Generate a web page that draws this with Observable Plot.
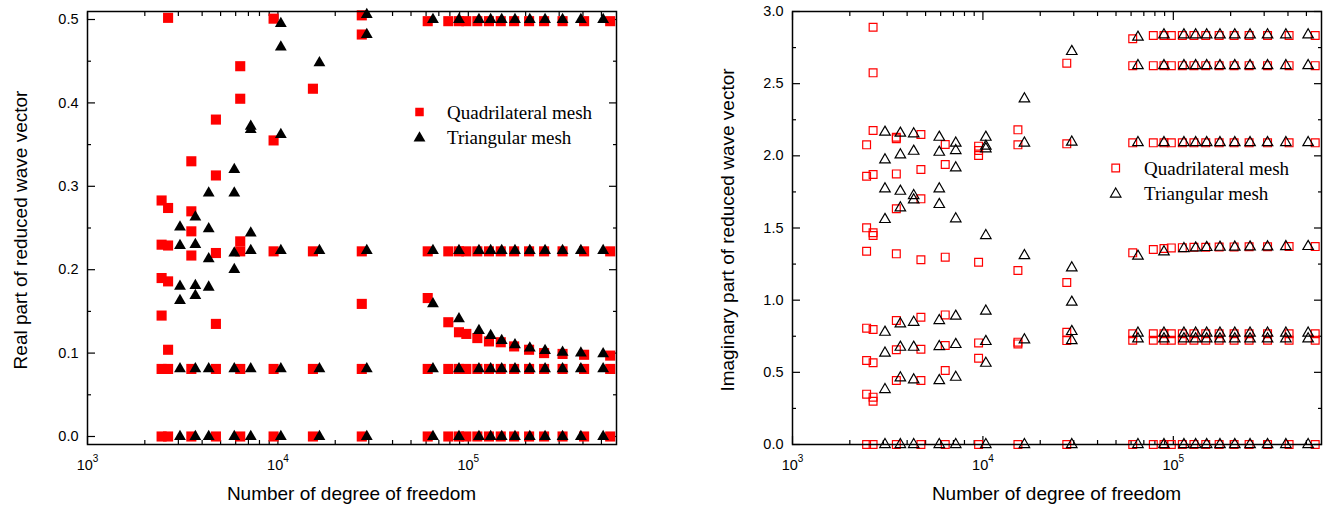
<!DOCTYPE html>
<html><head><meta charset="utf-8">
<script src="https://cdn.jsdelivr.net/npm/d3@7"></script>
<script src="https://cdn.jsdelivr.net/npm/@observablehq/plot@0.6"></script>
<style>
html,body{margin:0;padding:0;background:#fff;}
#wrap{position:relative;width:1329px;height:507px;overflow:hidden;background:#fff;}
#wrap svg{position:absolute;top:0;}
</style></head><body><div id="wrap"></div>
<script>
// ---------- x values (number of degrees of freedom) ----------
const quadDofLow = [2450, 2650, 3510, 4725, 6340, 9490, 15270, 27570];
const triDofLow = [3060, 3685, 4330, 5900, 7200, 10360, 16520, 29290];
const quadDofHigh = [61200, 78500, 89300, 97600, 111500, 128300, 148000, 174000, 208500, 250000, 312500, 405500, 556000];
const triDofHigh = [65200, 89300, 113700, 131000, 149700, 175800, 210300, 252900, 312500, 390000, 510500];

// ---------- left panel: real part ----------
const quadReLow = [
  [0.283, 0.230, 0.190, 0.145, 0.081, 0],
  [0.502, 0.274, 0.229, 0.186, 0.104, 0.081, 0],
  [0.330, 0.270, 0.246, 0.217, 0.081, 0],
  [0.380, 0.313, 0.220, 0.135, 0.081, 0],
  [0.444, 0.405, 0.234, 0.222, 0.081, 0],
  [0.501, 0.355, 0.222, 0.081, 0],
  [0.417, 0.222, 0.081, 0],
  [0.505, 0.482, 0.222, 0.159, 0.081, 0]
];
const triReLow = [
  [0.251, 0.229, 0.180, 0.163, 0.081, 0],
  [0.263, 0.230, 0.181, 0.169, 0.081, 0],
  [0.292, 0.249, 0.213, 0.179, 0.081, 0],
  [0.320, 0.292, 0.220, 0.200, 0.081, 0],
  [0.372, 0.368, 0.244, 0.223, 0.081, 0],
  [0.495, 0.467, 0.362, 0.223, 0.081, 0],
  [0.448, 0.223, 0.081, 0],
  [0.506, 0.482, 0.223, 0.081, 0]
];
const quadReLevels = [0.498, 0.222, 0.081, 0];
const triReLevels = [0.500, 0.223, 0.081, 0];
const quadReBranch = [0.166, 0.137, 0.125, 0.123, 0.118, 0.114, 0.113, 0.108, 0.104, 0.100, 0.099, 0.098, 0.097];
const triReBranch = [0.159, 0.141, 0.127, 0.121, 0.115, 0.110, 0.106, 0.103, 0.101, 0.100, 0.099];

// ---------- right panel: imaginary part ----------
const quadImLow = [
  [2.076, 1.859, 1.501, 1.339, 0.806, 0.582, 0.349, 0],
  [2.891, 2.575, 2.176, 1.871, 1.467, 1.448, 0.797, 0.566, 0.328, 0.300, 0],
  [2.129, 2.118, 1.875, 1.633, 1.321, 0.859, 0.656, 0.443, 0],
  [2.148, 1.905, 1.702, 1.280, 0.882, 0.660, 0.443, 0],
  [2.079, 1.940, 1.298, 0.898, 0.686, 0.513, 0],
  [2.067, 2.037, 2.002, 1.263, 0.704, 0.598, 0],
  [2.180, 2.076, 1.206, 0.709, 0.697, 0],
  [2.642, 2.083, 1.122, 0.778, 0.720, 0]
];
const triImLow = [
  [2.164, 1.972, 1.771, 1.559, 0.778, 0.633, 0.381, 0],
  [2.157, 2.007, 1.755, 1.640, 0.836, 0.674, 0.462, 0],
  [2.153, 2.032, 1.725, 1.695, 0.847, 0.674, 0.448, 0],
  [2.129, 2.025, 1.771, 1.663, 0.859, 0.679, 0.443, 0],
  [2.088, 2.037, 1.917, 1.564, 0.889, 0.693, 0.466, 0],
  [2.129, 2.067, 2.049, 1.448, 0.924, 0.714, 0.563, 0],
  [2.395, 2.088, 1.309, 0.725, 0],
  [2.723, 2.095, 1.224, 0.986, 0.783, 0.720, 0]
];
const quadImLevels = [2.625, 2.090, 0.767, 0.722, 0];
const triImLevels = [2.625, 2.092, 0.772, 0.732, 0];
const quadImTop = [2.811, 2.834, 2.834, 2.834, 2.834, 2.834, 2.834, 2.834, 2.834, 2.834, 2.834, 2.834, 2.834];
const triImTop = [2.822, 2.838, 2.838, 2.838, 2.838, 2.838, 2.838, 2.838, 2.838, 2.838, 2.838];
const quadImMid = [1.328, 1.351, 1.358, 1.362, 1.364, 1.366, 1.367, 1.368, 1.369, 1.370, 1.370, 1.371, 1.371];
const triImMid = [1.305, 1.335, 1.358, 1.362, 1.365, 1.367, 1.368, 1.369, 1.370, 1.371, 1.372];

// ---------- ticks ----------
const xDomain = [1000, 600000];
const xMajorTicks = [1000, 10000, 100000];
const xMinorTicks = [2000, 3000, 4000, 5000, 6000, 7000, 8000, 9000, 20000, 30000, 40000, 50000, 60000, 70000, 80000, 90000, 200000, 300000, 400000, 500000];
const reMajorTicks = [0, 0.1, 0.2, 0.3, 0.4, 0.5];
const reMinorTicks = [0.05, 0.15, 0.25, 0.35, 0.45];
const imMajorTicks = [0, 0.5, 1.0, 1.5, 2.0, 2.5, 3.0];
const imMinorTicks = [0.25, 0.75, 1.25, 1.75, 2.25, 2.75];

const seriesNames = ["Quadrilateral mesh", "Triangular mesh"];
const xTitle = "Number of degree of freedom";
const reTitle = "Real part of reduced wave vector";
const imTitle = "Imaginary part of reduced wave vector";

// ---------- helpers ----------
const spread = (dofs, lists) => dofs.flatMap((x, i) => lists[i].map(y => ({x, y})));
const rows = (dofs, levels) => levels.flatMap(y => dofs.map(x => ({x, y})));
const zip = (dofs, vals) => dofs.map((x, i) => ({x, y: vals[i]}));

const reQuad = [...spread(quadDofLow, quadReLow), ...rows(quadDofHigh, quadReLevels), ...zip(quadDofHigh, quadReBranch)];
const reTri = [...spread(triDofLow, triReLow), ...rows(triDofHigh, triReLevels), ...zip(triDofHigh, triReBranch)];
const imQuad = [...spread(quadDofLow, quadImLow), ...rows(quadDofHigh, quadImLevels), ...zip(quadDofHigh, quadImTop), ...zip(quadDofHigh, quadImMid)];
const imTri = [...spread(triDofLow, triImLow), ...rows(triDofHigh, triImLevels), ...zip(triDofHigh, triImTop), ...zip(triDofHigh, triImMid)];

const FONT = "'Liberation Sans', Arial, sans-serif";
const SERIF = "'Liberation Serif', 'Times New Roman', serif";
const wrap = document.getElementById("wrap");

function panel(cfg) {
  const tickStyle = {strokeWidth: 1.2, stroke: "black", label: null, tickFormat: () => ""};
  const plot = Plot.plot({
    width: cfg.width, height: 507,
    marginLeft: cfg.marginLeft, marginRight: cfg.marginRight, marginTop: 11, marginBottom: 63,
    style: {fontFamily: FONT, fontSize: "14.5px", color: "black", background: "white", overflow: "visible"},
    x: {type: "log", domain: xDomain},
    y: {domain: cfg.yDomain},
    marks: [
      Plot.axisX({...tickStyle, anchor: "bottom", ticks: xMajorTicks, tickSize: -8}),
      Plot.axisX({...tickStyle, anchor: "bottom", ticks: xMinorTicks, tickSize: -4}),
      Plot.axisX({...tickStyle, anchor: "top", ticks: xMajorTicks, tickSize: -8}),
      Plot.axisX({...tickStyle, anchor: "top", ticks: xMinorTicks, tickSize: -4}),
      Plot.axisY({...tickStyle, anchor: "left", ticks: cfg.yMajor, tickSize: -8}),
      Plot.axisY({...tickStyle, anchor: "left", ticks: cfg.yMinor, tickSize: -4}),
      Plot.axisY({...tickStyle, anchor: "right", ticks: cfg.yMajor, tickSize: -8}),
      Plot.axisY({...tickStyle, anchor: "right", ticks: cfg.yMinor, tickSize: -4}),
      Plot.axisX({anchor: "bottom", ticks: xMajorTicks, tickSize: 0, tickPadding: 15, label: null,
        tickFormat: d => "10^" + Math.round(Math.log10(d)), fontSize: 14.5}),
      Plot.axisY({anchor: "left", ticks: cfg.yMajor, tickSize: 0, tickPadding: 9, label: null,
        tickFormat: d3.format(".1f"), fontSize: 14.5}),
      Plot.dot(cfg.quad, {x: "x", y: "y", symbol: "square", r: cfg.hollow ? 4.4 : 5.7,
        fill: cfg.hollow ? "none" : "#ff0000", stroke: cfg.hollow ? "#ff0000" : "none", strokeWidth: 1.2}),
      Plot.dot(cfg.tri, {x: "x", y: "y", symbol: "triangle", r: cfg.hollow ? 3.9 : 4.4,
        fill: cfg.hollow ? "none" : "black", stroke: cfg.hollow ? "black" : "none", strokeWidth: 1.2}),
      Plot.frame({stroke: "black", strokeWidth: 1.5})
    ]
  });
  plot.style.left = cfg.left + "px";
  wrap.appendChild(plot);
  const svg = d3.select(plot);
  // superscript exponents on x tick labels
  svg.selectAll("text").each(function () {
    const t = this.textContent;
    if (/^10\^\d$/.test(t)) {
      const e = t.slice(3);
      const el = d3.select(this);
      el.text("10");
      el.append("tspan").attr("dy", -8).attr("font-size", 10).text(e);
    }
  });
  const xr = plot.scale("x").range;
  svg.append("text").attr("x", (xr[0] + xr[1]) / 2).attr("y", 500)
    .attr("text-anchor", "middle").attr("font-family", FONT).attr("font-size", 19)
    .attr("fill", "black").text(xTitle);
  svg.append("text").attr("transform", `translate(${cfg.yTitleX},${230}) rotate(-90)`)
    .attr("text-anchor", "middle").attr("dy", "0.36em").attr("font-family", FONT).attr("font-size", 19)
    .attr("fill", "black").text(cfg.yTitle);
  // legend
  const lg = svg.append("g").attr("text-anchor", "start");
  const sq = d3.symbol(d3.symbolSquare, Math.PI * (cfg.hollow ? 4.3 : 4.8) ** 2)();
  const tr = d3.symbol(d3.symbolTriangle, Math.PI * (cfg.hollow ? 3.9 : 4.4) ** 2)();
  const L = cfg.legend;
  lg.append("path").attr("d", sq).attr("transform", `translate(${L.mx},${L.y1})`)
    .attr("fill", cfg.hollow ? "none" : "#ff0000").attr("stroke", cfg.hollow ? "#ff0000" : "none").attr("stroke-width", 1.2);
  lg.append("path").attr("d", tr).attr("transform", `translate(${L.mx},${L.y2 + 1})`)
    .attr("fill", cfg.hollow ? "none" : "black").attr("stroke", cfg.hollow ? "black" : "none").attr("stroke-width", 1.2);
  lg.append("text").attr("x", L.tx).attr("y", L.y1 + 6.5).attr("text-anchor", "start")
    .attr("font-family", SERIF).attr("font-size", 19).attr("fill", "black").text(seriesNames[0]);
  lg.append("text").attr("x", L.tx).attr("y", L.y2 + 6.5).attr("text-anchor", "start")
    .attr("font-family", SERIF).attr("font-size", 19).attr("fill", "black").text(seriesNames[1]);
}

panel({
  left: 0, width: 660, marginLeft: 87, marginRight: 44,
  yDomain: [-0.0096, 0.5096], yMajor: reMajorTicks, yMinor: reMinorTicks,
  quad: reQuad, tri: reTri, hollow: false,
  yTitle: reTitle, yTitleX: 20,
  legend: {mx: 419.5, tx: 447, y1: 112, y2: 137}
});
panel({
  left: 660, width: 669, marginLeft: 132, marginRight: 8,
  yDomain: [0, 3.0], yMajor: imMajorTicks, yMinor: imMinorTicks,
  quad: imQuad, tri: imTri, hollow: true,
  yTitle: imTitle, yTitleX: 67,
  legend: {mx: 455.7, tx: 484, y1: 168, y2: 193}
});
</script>
</body></html>
